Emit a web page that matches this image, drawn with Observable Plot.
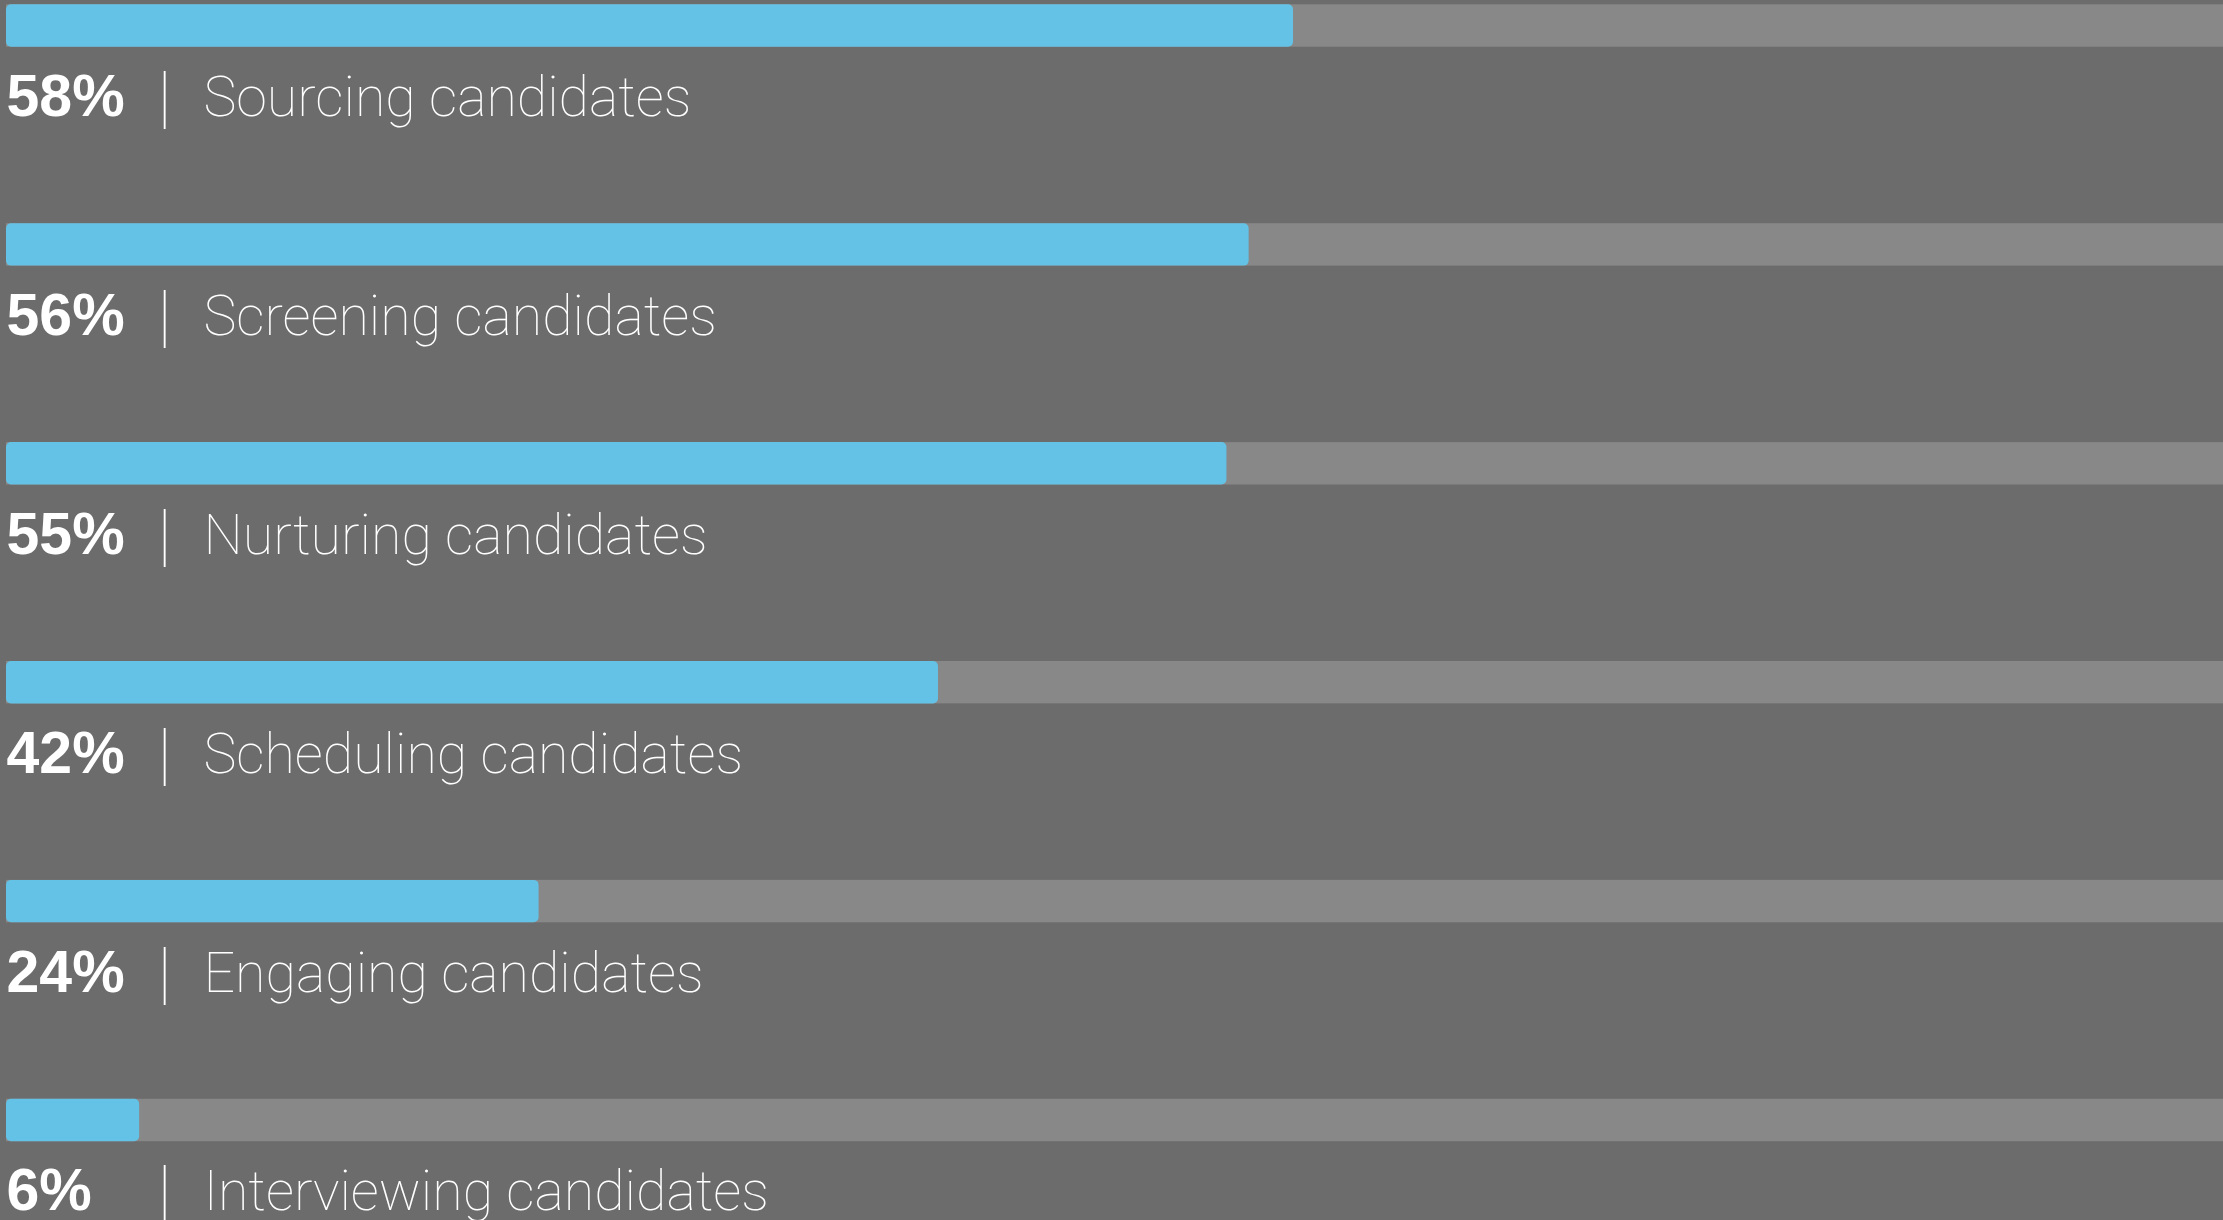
<!DOCTYPE html>
<html>
<head>
<meta charset="utf-8">
<script src="https://cdn.jsdelivr.net/npm/d3@7"></script>
<script src="https://cdn.jsdelivr.net/npm/@observablehq/plot@0.6"></script>
<style>
  html, body { margin: 0; padding: 0; background: #6c6c6c; overflow: hidden; }
  #chart svg { display: block; }
</style>
</head>
<body>
<div id="chart"></div>
<script>
const categories = [
  "Sourcing candidates",
  "Screening candidates",
  "Nurturing candidates",
  "Scheduling candidates",
  "Engaging candidates",
  "Interviewing candidates"
];
const values = [58, 56, 55, 42, 24, 6];
const maxValue = 100;

const data = categories.map((c, i) => ({category: c, value: values[i], pct: values[i] + "%"}));

const chart = Plot.plot({
  width: 2223,
  height: 1220,
  margin: 0,
  style: {background: "#6c6c6c", overflow: "visible"},
  x: {domain: [0, maxValue], range: [6, 2225], axis: null},
  y: {type: "band", domain: categories, range: [4.3, 1141.2], paddingInner: 0.8063, paddingOuter: 0, round: false, axis: null},
  marks: [
    Plot.barX(data, {x1: 0, x2: maxValue, y: "category", fill: "#888888"}),
    Plot.barX(data, {x1: 0, x2: "value", y: "category", fill: "#64c2e7", rx: 5}),
    Plot.text(data, {
      x: 0, y: "category", text: "pct", textAnchor: "start", lineAnchor: "bottom",
      dy: 90, dx: 0, fill: "white", fontSize: 59, fontWeight: "bold",
      fontFamily: "Liberation Sans, Arial, sans-serif"
    }),
    Plot.text(data, {
      x: 0, y: "category", text: () => "|", textAnchor: "middle", lineAnchor: "bottom",
      dy: 94, dx: 158, fill: "white", fontSize: 68, fontWeight: 100,
      fontFamily: "Roboto, sans-serif"
    }),
    Plot.text(data, {
      x: 0, y: "category", text: "category", textAnchor: "start", lineAnchor: "bottom",
      dy: 90, dx: 197, fill: "white", fontSize: 55.5, fontWeight: 100,
      fontFamily: "Roboto, sans-serif"
    })
  ]
});
document.getElementById("chart").appendChild(chart);
</script>
</body>
</html>
